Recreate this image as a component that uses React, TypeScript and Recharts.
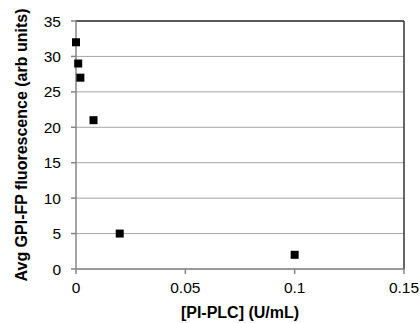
import React from 'react';
import { ScatterChart, Scatter, XAxis, YAxis, CartesianGrid, ReferenceLine } from 'recharts';

// PI-PLC concentration (U/mL) and avg fluorescence
const concentrations = [0, 0.001, 0.002, 0.008, 0.02, 0.1];
const fluorescence = [32, 29, 27, 21, 5, 2];
const xTicks = [0, 0.05, 0.1, 0.15];
const yTicks = [0, 5, 10, 15, 20, 25, 30, 35];

const data = concentrations.map((x, i) => ({ x, y: fluorescence[i] }));

const SquareDot = (props: any) => {
  const { cx, cy } = props;
  return <rect x={cx - 4} y={cy - 4} width={8} height={8} fill="#000" />;
};

const App = () => {
  const font = 'Liberation Sans, Arial, sans-serif';
  return (
    <div style={{ position: 'fixed', left: 0, top: 0, width: 420, height: 323, background: '#fff', fontFamily: font }}>
      <ScatterChart width={420} height={323} margin={{ top: 21, right: 16, left: 0, bottom: 5 }}>
        <CartesianGrid vertical={false} stroke="#a6a6a6" strokeWidth={1} />
        <XAxis
          type="number"
          dataKey="x"
          domain={[0, 0.15]}
          ticks={xTicks}
          tickFormatter={(v) => String(v)}
          stroke="#868686"
          strokeWidth={1.5}
          tickSize={5}
          tickMargin={8}
          tick={{ fill: '#000', fontSize: 15.5, fontFamily: font }}
          height={49}
          label={{ value: '[PI-PLC] (U/mL)', position: 'insideBottom', offset: 0, fill: '#000', fontSize: 16, fontWeight: 'bold', fontFamily: font }}
        />
        <YAxis
          type="number"
          dataKey="y"
          domain={[0, 35]}
          ticks={yTicks}
          stroke="#868686"
          strokeWidth={1.5}
          tickSize={5}
          tickMargin={10}
          tick={{ fill: '#000', fontSize: 15.5, fontFamily: font }}
          width={76}
          label={{ value: 'Avg GPI-FP fluorescence (arb units)', angle: -90, position: 'insideLeft', offset: 21, style: { textAnchor: 'middle' }, fill: '#000', fontSize: 16, fontWeight: 'bold', fontFamily: font }}
        />
        <ReferenceLine y={35} stroke="#333" strokeWidth={1.5} />
        <ReferenceLine x={0.15} stroke="#333" strokeWidth={1.5} />
        <Scatter data={data} shape={<SquareDot />} isAnimationActive={false} />
      </ScatterChart>
    </div>
  );
};

export default App;
